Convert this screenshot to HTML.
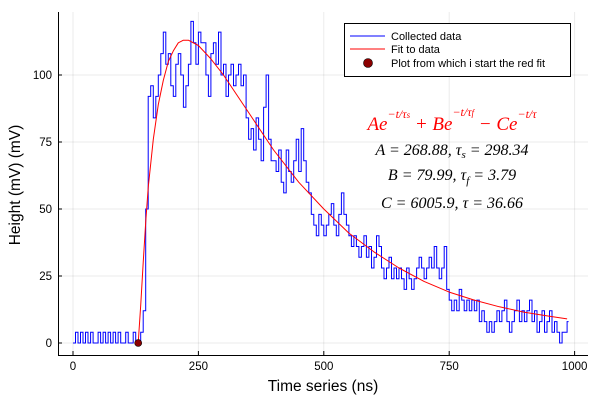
<!DOCTYPE html>
<html><head><meta charset="utf-8"><style>
body{margin:0;background:#fff;}
svg{display:block;font-family:"Liberation Sans",sans-serif;}
.m{font-family:"Liberation Serif",serif;font-style:italic;}
</style></head><body>
<svg id="c" width="600" height="400">
<g id="grid"></g>
<g id="axes"></g>
<g id="plot"></g>
<text x="323" y="391" font-size="15.5" text-anchor="middle">Time series (ns)</text>
<text transform="translate(20,185) rotate(-90)" font-size="15.5" text-anchor="middle">Height (mV) (mV)</text>
<g>
<rect x="344.5" y="23.5" width="226" height="53" fill="#fff" stroke="#000" stroke-width="1"/>
<line x1="350" y1="36" x2="385" y2="36" stroke="#00f"/>
<text x="391" y="40" font-size="11">Collected data</text>
<line x1="350" y1="49" x2="385" y2="49" stroke="#f00"/>
<text x="391" y="53" font-size="11">Fit to data</text>
<circle cx="368" cy="63" r="4.5" fill="#8b0000" stroke="#000" stroke-width="0.6"/>
<text x="391" y="67" font-size="11">Plot from which i start the red fit</text>
</g>
<g class="m">
<text x="452" y="130" font-size="19" fill="#f00" text-anchor="middle">Ae<tspan dy="-12" font-size="12">−t/τ<tspan font-size="9">s</tspan></tspan><tspan dy="12"> + Be</tspan><tspan dy="-14" font-size="12">−t/τ<tspan font-size="9">f</tspan></tspan><tspan dy="14"> − Ce</tspan><tspan dy="-12" font-size="12">−t/τ</tspan></text>
<text x="452" y="155" font-size="16" text-anchor="middle">A = 268.88, τ<tspan font-size="11" dy="3">s</tspan><tspan dy="-3"> = 298.34</tspan></text>
<text x="452" y="180" font-size="16" text-anchor="middle">B = 79.99, τ<tspan font-size="11" dy="4">f</tspan><tspan dy="-4"> = 3.79</tspan></text>
<text x="452" y="208" font-size="16" text-anchor="middle">C = 6005.9, τ = 36.66</text>
</g>
</svg>
<script>
const xTicks=[0,250,500,750,1000];
const yTicks=[0,25,50,75,100];
const dataStep=5;
const dataValues=[0,4,0,4,0,4,0,4,0,0,
4,0,4,0,4,0,4,0,4,0,
0,4,0,0,4,0,0,4,12,50,
92,96,84,92,100,108,116,104,108,96,
92,104,108,100,88,96,104,120,112,104,
116,112,112,100,92,108,112,104,116,100,
104,92,100,104,96,100,104,96,100,84,
76,80,72,84,76,68,88,100,76,68,
68,64,72,60,56,72,64,60,68,76,
64,80,68,60,56,48,44,40,48,44,
40,44,48,52,44,40,48,56,48,44,
40,36,40,36,32,36,40,32,36,28,
32,40,36,28,24,28,32,24,28,24,
28,24,20,28,24,20,24,28,32,28,
24,28,32,28,36,28,24,28,36,20,
16,12,16,12,20,16,12,16,12,16,
12,16,8,12,8,4,8,4,8,12,
8,12,16,8,4,8,12,16,8,12,
8,12,16,8,12,4,8,12,4,8,
12,4,8,4,0,4,4,8];
const fitT=[130,135,140,145,150,160,170,180,190,200,210,220,230,250,275,300,350,400,450,500,550,600,650,700,750,800,850,900,950,985];
const fitV=[0,14,30,45,58,76,89,98,105,109,112,113,113,111,106,100,86,72,60,50,41,34,28,23,19,16,13.5,11.5,10,9];
const startT=130, startV=0;
const X=t=>73+t*0.5016, Y=v=>343-v*2.68;
const NS="http://www.w3.org/2000/svg";
function mk(tag,attrs,parent){const e=document.createElementNS(NS,tag);for(const k in attrs)e.setAttribute(k,attrs[k]);parent.appendChild(e);return e;}
const grid=document.getElementById('grid'),axes=document.getElementById('axes'),plot=document.getElementById('plot');
xTicks.forEach(t=>{
 const g=mk('line',{x1:X(t),x2:X(t),y1:12,y2:355,stroke:'#000','stroke-opacity':0.08},grid);
 
 
 const tk=mk('line',{x1:X(t),x2:X(t),y1:355,y2:351,stroke:'#000'},axes);
 
 
 const l=mk('text',{x:X(t),y:370,'font-size':11.5,'text-anchor':'middle'},axes);l.textContent=t;
 
 
});
yTicks.forEach(v=>{
 const g=mk('line',{x1:58,x2:588,y1:Y(v),y2:Y(v),stroke:'#000','stroke-opacity':0.08},grid);
 
 
 const tk=mk('line',{x1:58,x2:62,y1:Y(v),y2:Y(v),stroke:'#000'},axes);
 
 
 const l=mk('text',{x:52,y:Y(v)+4,'font-size':11.5,'text-anchor':'end'},axes);l.textContent=v;
 
 
});
const ax=mk('path',{d:'M58.5,12V355.5H588',fill:'none',stroke:'#000','stroke-width':1},axes);


let d='';
dataValues.forEach((v,i)=>{const x=X(i*dataStep);d+=(i?'H'+x.toFixed(1)+'V':'M'+x.toFixed(1)+','+Y(v).toFixed(1));if(i)d+=Y(v).toFixed(1);});
d+='H'+X(dataValues.length*dataStep-dataStep+3).toFixed(1);
const dl=mk('path',{d:d,fill:'none',stroke:'#00f','stroke-width':1},plot);


const fd=fitT.map((t,i)=>(i?'L':'M')+X(t).toFixed(1)+','+Y(fitV[i]).toFixed(1)).join('');
const fl=mk('path',{d:fd,fill:'none',stroke:'#f00','stroke-width':1,'stroke-linejoin':'round'},plot);


const sm=mk('circle',{cx:X(startT),cy:Y(startV),r:3.5,fill:'#8b0000',stroke:'#000','stroke-width':0.6},plot);


</script>
</body></html>
